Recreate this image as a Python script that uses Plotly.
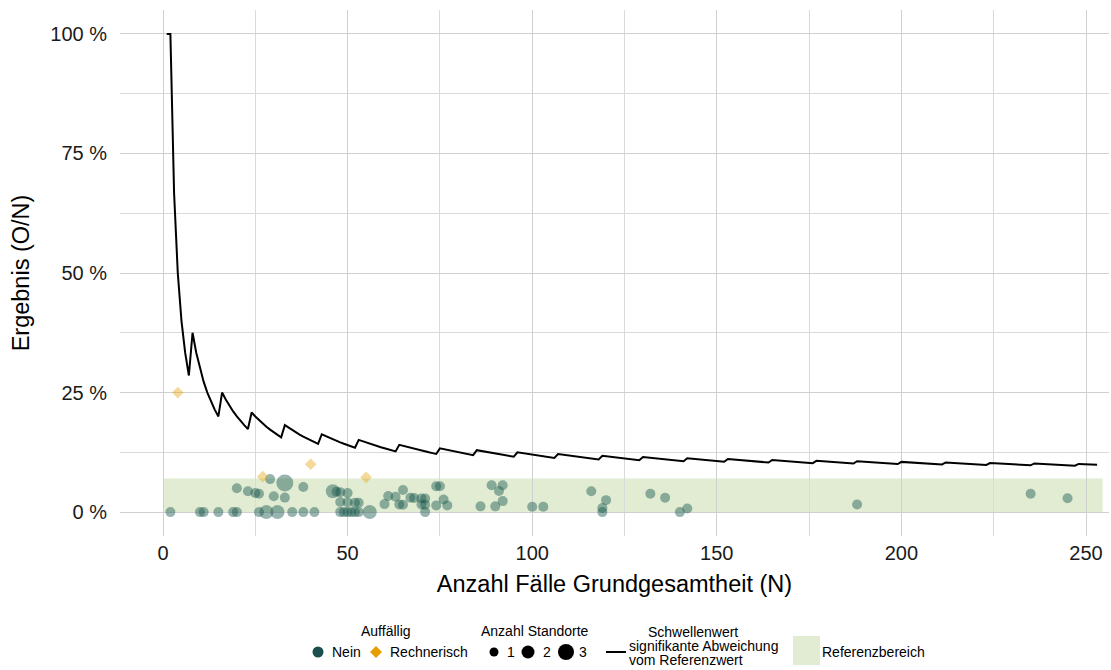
import plotly.graph_objects as go

# ---------------- data ----------------
# threshold line: count k applies from N = threshold_start_N[i] on (value = k / N)
threshold_start_N = [1, 2, 8, 16, 24, 33, 43, 53, 64, 75, 85, 96, 107, 119, 130,
                     142, 153, 165, 177, 188, 200, 212, 224, 236, 248]
threshold_count = [1, 2, 3, 4, 5, 6, 7, 8, 9, 10, 11, 12, 13, 14, 15,
                   16, 17, 18, 19, 20, 21, 22, 23, 24, 25]
threshold_max_N = 253

# Auffällig: Nein
nein_N = [2, 10, 11, 15, 19, 20, 26, 28, 31, 35, 38, 41, 48, 49, 50, 51, 52, 53, 56, 71, 119, 140,
          20, 23, 25, 26, 29, 30, 33, 33, 38, 46, 47, 48, 50, 48, 50, 52, 53,
          60, 61, 63, 65, 64, 65, 67, 68, 70, 71, 70, 71, 74, 75, 74, 76, 77,
          86, 89, 90, 91, 92, 92, 100, 103, 116, 119, 120, 132, 136, 142, 188, 235, 245]
nein_pct = [0, 0, 0, 0, 0, 0, 0, 0, 0, 0, 0, 0, 0, 0, 0, 0, 0, 0, 0, 0, 0, 0,
            5.0, 4.35, 4.0, 3.85, 6.9, 3.33, 6.06, 3.03, 5.26, 4.35, 4.26, 4.17, 4.0, 2.1, 2.05, 1.95, 1.95,
            1.67, 3.35, 3.2, 4.62, 1.6, 1.55, 2.99, 2.94, 2.86, 2.82, 1.6, 1.55, 5.41, 5.41, 1.4, 2.63, 1.4,
            1.2, 5.6, 1.2, 4.4, 5.6, 2.3, 1.1, 1.1, 4.35, 0.84, 2.5, 3.85, 3.0, 0.75, 1.6, 3.85, 2.9]
nein_sites = [1, 1, 1, 1, 1, 1, 1, 2, 2, 1, 1, 1, 1, 1, 1, 1, 1, 1, 2, 1, 1, 1,
              1, 1, 1, 1, 1, 1, 3, 1, 1, 2, 1, 1, 1, 1, 1, 1, 1,
              1, 1, 1, 1, 1, 1, 1, 1, 1, 1, 1, 1, 1, 1, 1, 1, 1,
              1, 1, 1, 1, 1, 1, 1, 1, 1, 1, 1, 1, 1, 1, 1, 1, 1]

# Auffällig: Rechnerisch
rech_N = [4, 27, 40, 55]
rech_pct = [25.0, 7.41, 10.0, 7.27]

# Referenzbereich
ref_low = 0
ref_high = 7
ref_x_start = 0
ref_x_end = 254.5

x_ticks = [0, 50, 100, 150, 200, 250]
y_ticks = [0, 25, 50, 75, 100]
y_tick_labels = ["0 %", "25 %", "50 %", "75 %", "100 %"]

# ---------------- derived ----------------
thr_x, thr_y = [], []
for n in range(1, threshold_max_N + 1):
    k = None
    for s, c in zip(threshold_start_N, threshold_count):
        if n >= s:
            k = c
    thr_x.append(n)
    thr_y.append(100.0 * k / n)

size_px = {1: 10, 2: 14, 3: 17}
TEAL = "#1a5850"
ORANGE = "#E69F00"
BAND = "#e1ecd3"
FONT = "Liberation Sans, Arial, sans-serif"

fig = go.Figure()

fig.add_shape(type="rect", xref="x", yref="y", x0=ref_x_start, x1=ref_x_end,
              y0=ref_low, y1=ref_high, fillcolor=BAND, line=dict(width=0), layer="below")

fig.add_trace(go.Scatter(x=thr_x, y=thr_y, mode="lines",
                         line=dict(color="black", width=2), showlegend=False, hoverinfo="skip"))

fig.add_trace(go.Scatter(x=nein_N, y=nein_pct, mode="markers",
                         marker=dict(color=TEAL, opacity=0.45,
                                     size=[size_px[s] for s in nein_sites],
                                     line=dict(width=0)),
                         showlegend=False))
fig.add_trace(go.Scatter(x=rech_N, y=rech_pct, mode="markers",
                         marker=dict(color=ORANGE, opacity=0.4, symbol="diamond", size=9,
                                     line=dict(width=0)),
                         showlegend=False))

# ---------------- layout ----------------
L, R, T, B = 120, 1109, 10, 536
W, H = 1111, 670


def px2x(px):
    return (px - L) / (R - L)


def py2y(py):
    return (B - py) / (B - T)


x0v = -11.65
xscale = (1086 - 163) / 250.0
x_range = [x0v, x0v + (R - L) / xscale]

fig.update_layout(
    width=W, height=H,
    margin=dict(l=L, r=W - R, t=T, b=H - B, autoexpand=False),
    plot_bgcolor="white", paper_bgcolor="white",
    font=dict(family=FONT, color="black"),
    showlegend=False,
    xaxis=dict(range=x_range, tickvals=x_ticks, showgrid=True, gridcolor="#d0d0d0", gridwidth=1.3,
               zeroline=False, showline=False, ticks="", tickfont=dict(size=20, color="#1a1a1a"),
               ticklabelstandoff=3,
               minor=dict(dtick=25, tick0=0, showgrid=True, gridcolor="#dadada", gridwidth=1),
               title=dict(text="Anzahl Fälle Grundgesamtheit (N)", font=dict(size=23.5), standoff=12)),
    yaxis=dict(range=[-5, 105], tickvals=y_ticks, ticktext=y_tick_labels, showgrid=True,
               gridcolor="#d0d0d0", gridwidth=1.3, zeroline=False, showline=False, ticks="",
               tickfont=dict(size=20, color="#1a1a1a"), ticklabelstandoff=12,
               minor=dict(dtick=12.5, tick0=0, showgrid=True, gridcolor="#dadada", gridwidth=1),
               title=dict(text="Ergebnis (O/N)", font=dict(size=23.5), standoff=14)),
)

# ---------------- legend (drawn) ----------------
ann = []
shp = []
LF = 14
ly = 652


def text(px, py, s, anchor="left"):
    ann.append(dict(x=px2x(px), y=py2y(py), xref="paper", yref="paper", text=s, showarrow=False,
                    xanchor=anchor, yanchor="middle", font=dict(size=LF, family=FONT, color="black")))


def dot(px, py, d, color):
    r = d / 2.0
    shp.append(dict(type="circle", xref="paper", yref="paper", xsizemode="pixel", ysizemode="pixel",
                    xanchor=px2x(px), yanchor=py2y(py), x0=-r, x1=r, y0=-r, y1=r,
                    fillcolor=color, line=dict(width=0)))


text(386, 631, "Auffällig", "center")
dot(318, ly, 11, "#1b4f4b")
text(330, ly, "Nein")
shp.append(dict(type="path", xref="paper", yref="paper", xsizemode="pixel", ysizemode="pixel",
                xanchor=px2x(376), yanchor=py2y(ly), path="M 0 6 L 6 0 L 0 -6 L -6 0 Z",
                fillcolor=ORANGE, line=dict(width=0)))
text(388, ly, "Rechnerisch")

text(535, 631, "Anzahl Standorte", "center")
dot(494, ly, 9, "black")
text(505, ly, "1")
dot(528, ly, 13, "black")
text(541, ly, "2")
dot(566, ly, 16, "black")
text(577, ly, "3")

shp.append(dict(type="line", xref="paper", yref="paper", x0=px2x(606), x1=px2x(626),
                y0=py2y(ly), y1=py2y(ly), line=dict(color="black", width=2)))
text(693, 632, "Schwellenwert", "center")
text(627, 646, "signifikante Abweichung")
text(627, 660, "vom Referenzwert")

shp.append(dict(type="rect", xref="paper", yref="paper", x0=px2x(793), x1=px2x(820),
                y0=py2y(665), y1=py2y(636), fillcolor=BAND, line=dict(width=0)))
text(820, ly, "Referenzbereich")

fig.update_layout(annotations=ann)
for s in shp:
    fig.add_shape(**s)

fig.write_html("out.html", config={"displayModeBar": False},
               post_script="document.body.style.margin='0';document.body.style.padding='0';")
